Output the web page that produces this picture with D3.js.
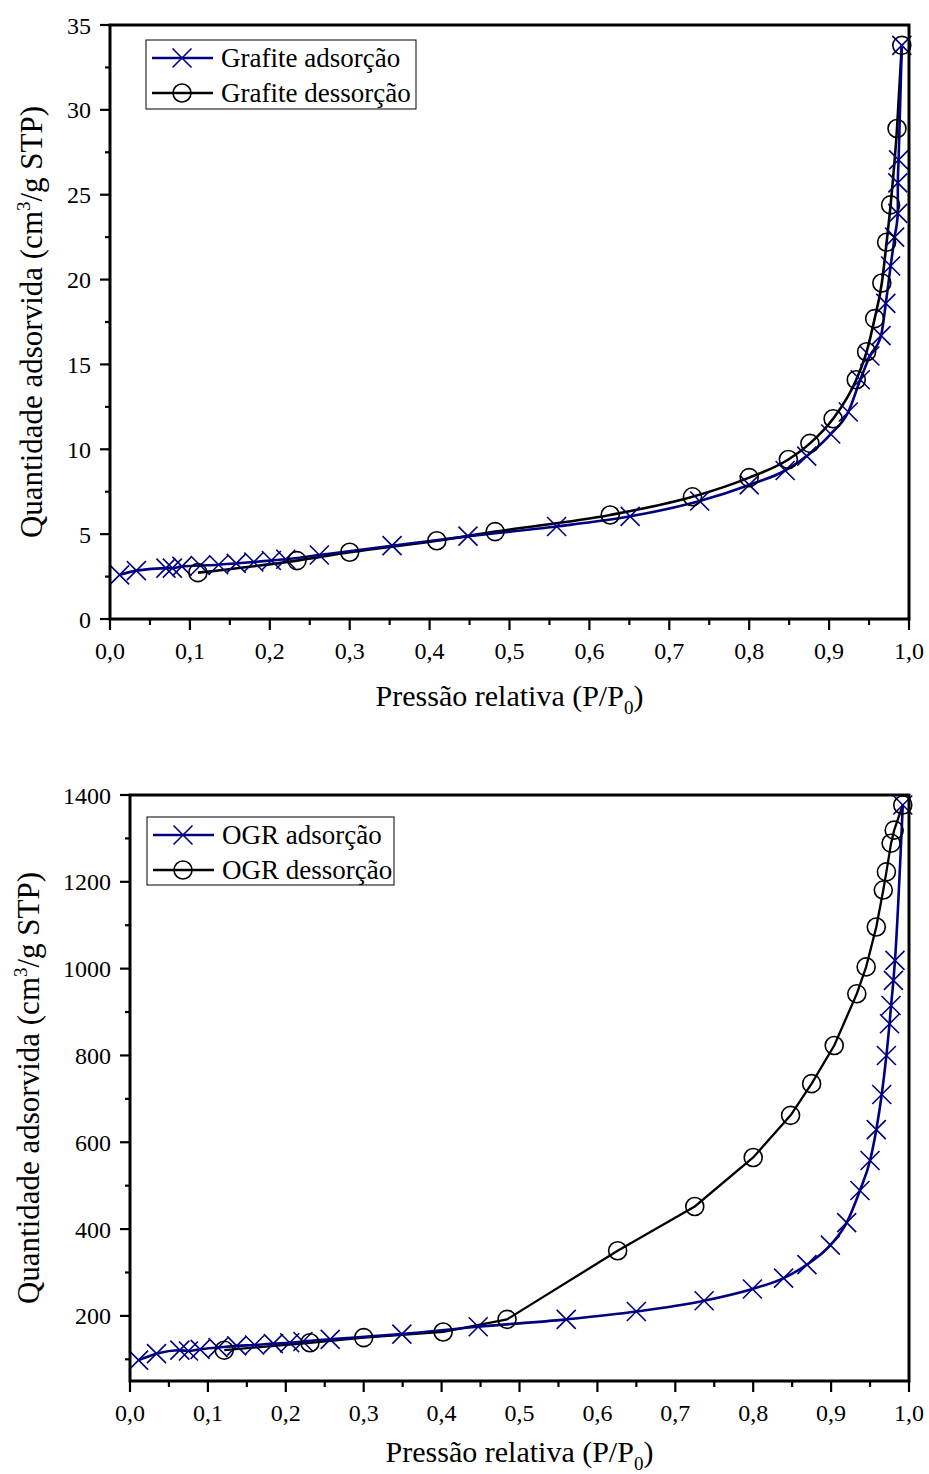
<!DOCTYPE html>
<html><head><meta charset="utf-8">
<script src="https://cdn.jsdelivr.net/npm/d3@7"></script>
<style>body{margin:0;background:#fff}svg{display:block}</style>
</head><body>
<script>
// ---------- DATA ----------
const xTicks = [0,0.1,0.2,0.3,0.4,0.5,0.6,0.7,0.8,0.9,1.0];
const xTickLabels = ["0,0","0,1","0,2","0,3","0,4","0,5","0,6","0,7","0,8","0,9","1,0"];

const grafTicks = [0,5,10,15,20,25,30,35];
const grafAdsP = [0.012,0.033,0.070,0.078,0.090,0.113,0.136,0.158,0.180,0.202,0.220,0.262,0.353,0.448,0.559,0.651,0.738,0.800,0.845,0.872,0.902,0.924,0.939,0.951,0.965,0.971,0.977,0.982,0.986,0.986,0.987,0.991];
const grafAdsV = [2.60,2.85,3.00,3.00,3.10,3.15,3.20,3.28,3.36,3.45,3.52,3.77,4.32,4.88,5.45,6.05,6.95,7.90,8.75,9.60,10.90,12.20,14.10,15.50,16.70,18.60,20.80,22.50,23.90,25.70,27.05,33.80];
const grafDesP = [0.991,0.985,0.977,0.972,0.966,0.957,0.947,0.934,0.905,0.876,0.849,0.800,0.729,0.626,0.482,0.409,0.300,0.234,0.110];
const grafDesV = [33.8,28.9,24.4,22.2,19.8,17.7,15.75,14.1,11.8,10.35,9.4,8.33,7.2,6.13,5.15,4.61,3.93,3.44,2.73];

const ogrTicks = [200,400,600,800,1000,1200,1400];
const ogrAdsP = [0.011,0.034,0.064,0.075,0.090,0.113,0.137,0.160,0.184,0.205,0.222,0.257,0.349,0.447,0.560,0.650,0.737,0.799,0.839,0.869,0.899,0.920,0.937,0.950,0.958,0.965,0.971,0.975,0.977,0.980,0.982,0.992];
const ogrAdsV = [98,113,121,119,123,127,131,133,136,138,141,146,158,175,192,210,235,262,287,318,363,415,489,558,629,710,800,873,915,973,1019,1377];
const ogrDesP = [0.992,0.981,0.977,0.971,0.967,0.958,0.945,0.933,0.904,0.875,0.848,0.800,0.725,0.626,0.484,0.402,0.300,0.231,0.121];
const ogrDesV = [1377,1319,1289,1223,1181,1096,1004,942,823,735,662,565,452,350,192,163,150,138,121];

const legGraf = ["Grafite adsorção","Grafite dessorção"];
const legOgr = ["OGR adsorção","OGR dessorção"];

// ---------- DRAW ----------
const W = 929, H = 1474;
const svg = d3.select("body").append("svg").attr("width",W).attr("height",H);
const FONT = "'Liberation Serif','Times New Roman',serif";
const BLUE = "#000080";

function zip(p,v){ return p.map((d,i)=>({p:d,v:v[i]})); }

function panel(o){
  const g = svg.append("g");
  const x = d3.scaleLinear().domain([0,1]).range([o.x0,o.x1]);
  const y = d3.scaleLinear().domain(o.ydom).range([o.y1,o.y0]);

  // minor + major ticks (outward)
  const xMinor = d3.range(0.05,1,0.1);
  g.selectAll(".xmin").data(xMinor).join("line")
    .attr("x1",d=>x(d)).attr("x2",d=>x(d)).attr("y1",o.y1).attr("y2",o.y1+6)
    .attr("stroke","#000").attr("stroke-width",2.2);
  g.selectAll(".xmaj").data(xTicks).join("line")
    .attr("x1",d=>x(d)).attr("x2",d=>x(d)).attr("y1",o.y1).attr("y2",o.y1+11)
    .attr("stroke","#000").attr("stroke-width",2.2);
  g.selectAll(".xlab").data(xTicks).join("text")
    .attr("x",d=>x(d)).attr("y",o.y1+40).attr("text-anchor","middle")
    .attr("font-family",FONT).attr("font-size",24).text((d,i)=>xTickLabels[i]);

  g.selectAll(".ymin").data(o.yMinor).join("line")
    .attr("x1",o.x0-5).attr("x2",o.x0).attr("y1",d=>y(d)).attr("y2",d=>y(d))
    .attr("stroke","#000").attr("stroke-width",2.2);
  g.selectAll(".ymaj").data(o.yTicks).join("line")
    .attr("x1",o.x0-10).attr("x2",o.x0).attr("y1",d=>y(d)).attr("y2",d=>y(d))
    .attr("stroke","#000").attr("stroke-width",2.2);
  g.selectAll(".ylab").data(o.yTicks).join("text")
    .attr("x",o.x0-19).attr("y",d=>y(d)+8.5).attr("text-anchor","end")
    .attr("font-family",FONT).attr("font-size",24).text(d=>d);

  // lines
  const lineA = d3.line().x(d=>x(d.p)).y(d=>y(d.v)).curve(d3.curveMonotoneX);
  const lineD = d3.line().x(d=>x(d.p)).y(d=>y(d.v)).curve(o.desCurve);
  const ads = zip(o.adsP,o.adsV).sort((a,b)=>a.p-b.p);
  const des = zip(o.desP,o.desV).sort((a,b)=>a.p-b.p);
  g.append("path").attr("d",lineD(des)).attr("fill","none").attr("stroke","#000").attr("stroke-width",o.desW).attr("stroke-linejoin","round");
  g.append("path").attr("d",lineA(ads)).attr("fill","none").attr("stroke",BLUE).attr("stroke-width",2.6);

  // markers
  const s = 9.5;
  g.selectAll(".cx").data(ads).join("path")
    .attr("d",d=>{const cx=x(d.p), cy=y(d.v); return `M${cx-s},${cy-s}L${cx+s},${cy+s}M${cx-s},${cy+s}L${cx+s},${cy-s}`;})
    .attr("stroke",BLUE).attr("stroke-width",1.6).attr("fill","none");
  g.selectAll(".ci").data(des).join("circle")
    .attr("cx",d=>x(d.p)).attr("cy",d=>y(d.v)).attr("r",9)
    .attr("fill","none").attr("stroke","#000").attr("stroke-width",1.6);

  // frame
  g.append("rect").attr("x",o.x0).attr("y",o.y0).attr("width",o.x1-o.x0).attr("height",o.y1-o.y0)
    .attr("fill","none").attr("stroke","#000").attr("stroke-width",3);

  // legend
  const L = o.leg;
  g.append("rect").attr("x",L.x).attr("y",L.y).attr("width",L.w).attr("height",L.h)
    .attr("fill","#fff").attr("stroke","#000").attr("stroke-width",1);
  o.legText.forEach((t,i)=>{
    const cy = L.y + 18 + i*35;
    const col = i===0?BLUE:"#000";
    g.append("line").attr("x1",L.x+6).attr("x2",L.x+67).attr("y1",cy).attr("y2",cy)
      .attr("stroke",col).attr("stroke-width",2.5);
    const mx = L.x+36;
    if(i===0){
      g.append("path").attr("d",`M${mx-s},${cy-s}L${mx+s},${cy+s}M${mx-s},${cy+s}L${mx+s},${cy-s}`)
        .attr("stroke",BLUE).attr("stroke-width",1.6);
    } else {
      g.append("circle").attr("cx",mx).attr("cy",cy).attr("r",9).attr("fill","none")
        .attr("stroke","#000").attr("stroke-width",1.6);
    }
    g.append("text").attr("x",L.x+75).attr("y",cy+9).attr("font-family",FONT).attr("font-size",27).text(t);
  });

  // axis titles
  const xt = g.append("text").attr("x",(o.x0+o.x1)/2).attr("y",o.y1+o.xty).attr("text-anchor","middle")
    .attr("font-family",FONT).attr("font-size",30);
  xt.append("tspan").text("Pressão relativa (P/P");
  xt.append("tspan").attr("font-size",19).attr("dy",8).text("0");
  xt.append("tspan").attr("dy",-8).text(")");

  const yt = g.append("text").attr("transform",`translate(${o.ytx},${(o.y0+o.y1)/2}) rotate(-90)`)
    .attr("text-anchor","middle").attr("font-family",FONT).attr("font-size",31);
  yt.append("tspan").text("Quantidade adsorvida (cm");
  yt.append("tspan").attr("font-size",19).attr("dy",-12).text("3");
  yt.append("tspan").attr("dy",12).text("/g STP)");
}

panel({x0:110,x1:909,y0:25,y1:619,ydom:[0,35],yTicks:grafTicks,yMinor:d3.range(2.5,35,5),
  adsP:grafAdsP,adsV:grafAdsV,desP:grafDesP,desV:grafDesV,desW:2.6,desCurve:d3.curveMonotoneX,
  leg:{x:146,y:40,w:270,h:69},legText:legGraf,ytx:42,xty:87});
panel({x0:130,x1:909,y0:795,y1:1381,ydom:[50,1400],yTicks:ogrTicks,yMinor:d3.range(100,1400,200),
  adsP:ogrAdsP,adsV:ogrAdsV,desP:ogrDesP,desV:ogrDesV,desW:2.3,desCurve:d3.curveLinear,
  leg:{x:147,y:817,w:247,h:68},legText:legOgr,ytx:39,xty:81});
</script>
</body></html>
